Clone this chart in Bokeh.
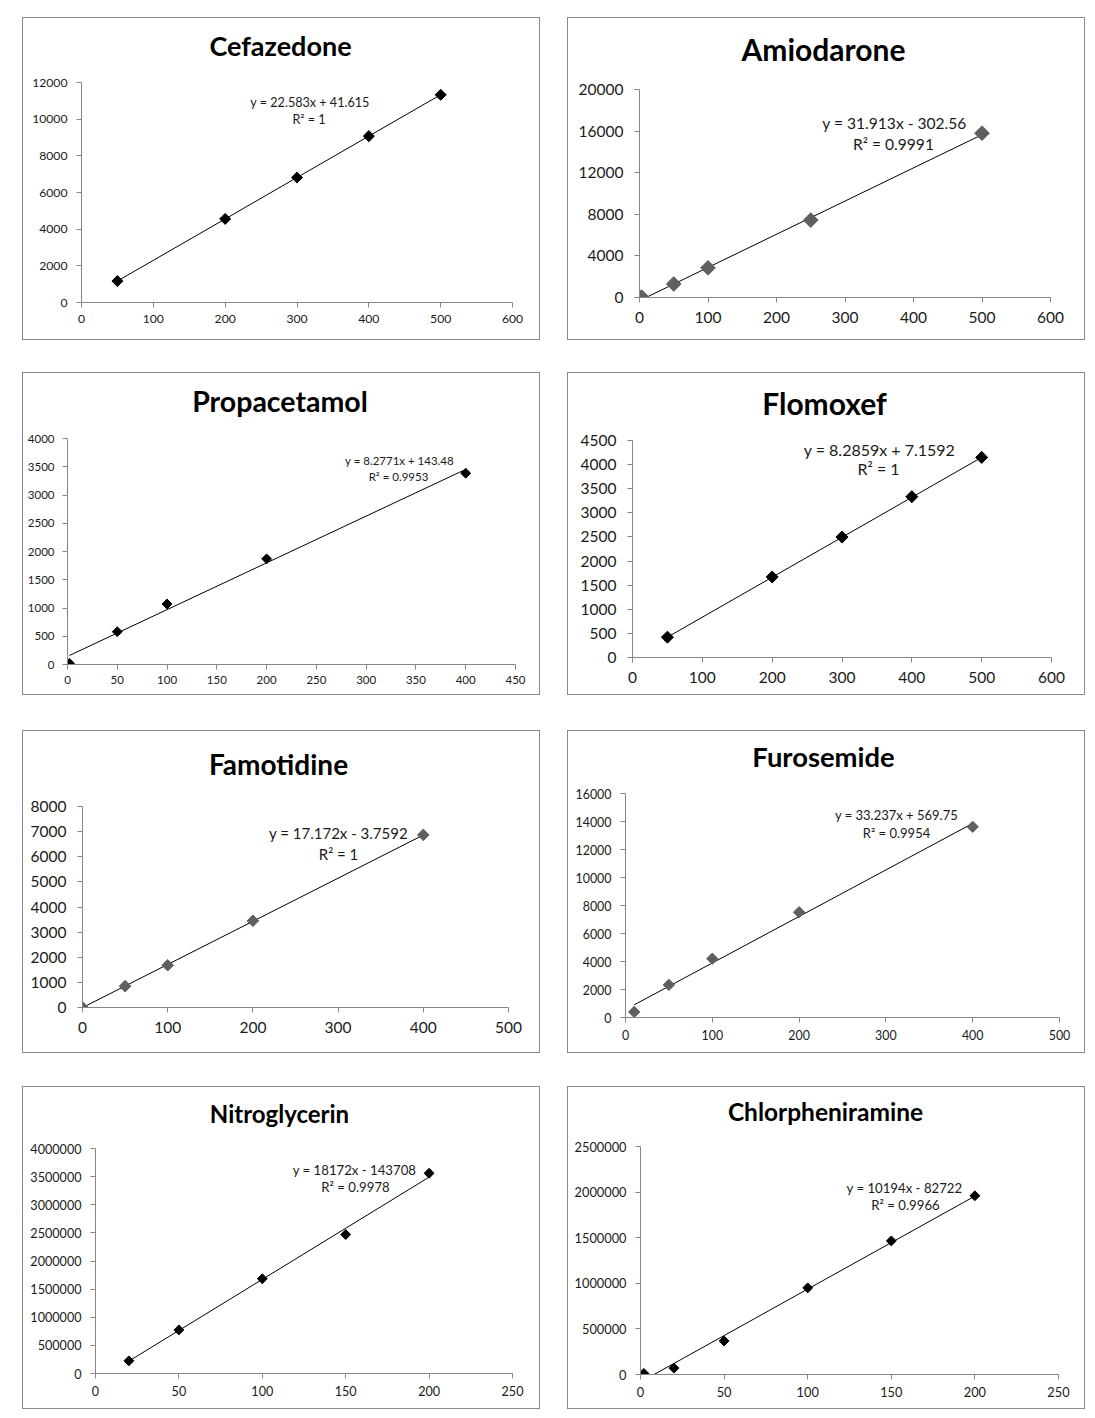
import math
from bokeh.plotting import figure
from bokeh.models import Range1d, FixedTicker, NumeralTickFormatter, Label
from bokeh.embed import file_html
from bokeh.resources import INLINE

# ---------------- data ----------------
cef_x = [50, 200, 300, 400, 500]
cef_y = [1170, 4560, 6815, 9075, 11330]
cef_fit = [22.583, 41.615]
cef_xticks = [0, 100, 200, 300, 400, 500, 600]
cef_yticks = [0, 2000, 4000, 6000, 8000, 10000, 12000]

ami_x = [3, 50, 100, 250, 500]
ami_y = [40, 1300, 2850, 7440, 15800]
ami_fit = [31.913, -302.56]
ami_xticks = [0, 100, 200, 300, 400, 500, 600]
ami_yticks = [0, 4000, 8000, 12000, 16000, 20000]

pro_x = [2, 50, 100, 200, 400]
pro_y = [20, 580, 1070, 1870, 3385]
pro_fit = [8.2771, 143.48]
pro_xticks = [0, 50, 100, 150, 200, 250, 300, 350, 400, 450]
pro_yticks = [0, 500, 1000, 1500, 2000, 2500, 3000, 3500, 4000]

flo_x = [50, 200, 300, 400, 500]
flo_y = [422, 1670, 2497, 3335, 4150]
flo_fit = [8.2859, 7.1592]
flo_xticks = [0, 100, 200, 300, 400, 500, 600]
flo_yticks = [0, 500, 1000, 1500, 2000, 2500, 3000, 3500, 4000, 4500]

fam_x = [0, 50, 100, 200, 400]
fam_y = [5, 850, 1680, 3450, 6870]
fam_fit = [17.172, -3.7592]
fam_xticks = [0, 100, 200, 300, 400, 500]
fam_yticks = [0, 1000, 2000, 3000, 4000, 5000, 6000, 7000, 8000]

fur_x = [10, 50, 100, 200, 400]
fur_y = [400, 2330, 4200, 7520, 13620]
fur_fit = [33.237, 569.75]
fur_xticks = [0, 100, 200, 300, 400, 500]
fur_yticks = [0, 2000, 4000, 6000, 8000, 10000, 12000, 14000, 16000]

nit_x = [20, 50, 100, 150, 200]
nit_y = [225000, 775000, 1685000, 2470000, 3560000]
nit_fit = [18172, -143708]
nit_xticks = [0, 50, 100, 150, 200, 250]
nit_yticks = [0, 500000, 1000000, 1500000, 2000000, 2500000, 3000000, 3500000, 4000000]

chl_x = [2, 20, 50, 100, 150, 200]
chl_y = [12000, 70000, 368000, 950000, 1465000, 1960000]
chl_fit = [10194, -82722]
chl_xticks = [0, 50, 100, 150, 200, 250]
chl_yticks = [0, 500000, 1000000, 1500000, 2000000, 2500000]

titles = ["Cefazedone", "Amiodarone", "Propacetamol", "Flomoxef",
          "Famotidine", "Furosemide", "Nitroglycerin", "Chlorpheniramine"]
equations = ["y = 22.583x + 41.615", "y = 31.913x - 302.56", "y = 8.2771x + 143.48",
             "y = 8.2859x + 7.1592", "y = 17.172x - 3.7592", "y = 33.237x + 569.75",
             "y = 18172x - 143708", "y = 10194x - 82722"]
r2_texts = ["R\u00b2 = 1", "R\u00b2 = 0.9991", "R\u00b2 = 0.9953", "R\u00b2 = 1",
            "R\u00b2 = 1", "R\u00b2 = 0.9954", "R\u00b2 = 0.9978", "R\u00b2 = 0.9966"]

# ---------------- layout / style (page px) ----------------
FONT = "Lato"
W, H = 518, 323          # outer box incl. 1px border (border-box)
CW, CH = 516, 321        # canvas inside the border
specs = [
    dict(xs=cef_x, ys=cef_y, fit=cef_fit, xt=cef_xticks, yt=cef_yticks,
         box=(22, 17), frame=(80.5, 510, 82, 300), tick_fs=12.2, title_fs=27, eq_fs=12.6,
         title_pos=(279.5, 44.5), eq_pos=(309, 99.5), r2_pos=(308, 117), msize=7.8, mcolor="#000000"),
    dict(xs=ami_x, ys=ami_y, fit=ami_fit, xt=ami_xticks, yt=ami_yticks,
         box=(567, 17), frame=(639, 1048, 89, 295), tick_fs=15.5, title_fs=30, eq_fs=15.6,
         title_pos=(823, 48), eq_pos=(894, 120), r2_pos=(893, 141), msize=10.4, mcolor="#5f5f5f"),
    dict(xs=pro_x, ys=pro_y, fit=pro_fit, xt=pro_xticks, yt=pro_yticks,
         box=(22, 372), frame=(67, 513, 438, 662), tick_fs=11.5, title_fs=28.5, eq_fs=11.5,
         title_pos=(279.5, 400.5), eq_pos=(399, 458), r2_pos=(398, 474), msize=7, mcolor="#000000"),
    dict(xs=flo_x, ys=flo_y, fit=flo_fit, xt=flo_xticks, yt=flo_yticks,
         box=(567, 372), frame=(632, 1049, 440, 655), tick_fs=15.5, title_fs=30, eq_fs=16,
         title_pos=(824, 402), eq_pos=(879, 447), r2_pos=(878, 466), msize=8.5, mcolor="#000000"),
    dict(xs=fam_x, ys=fam_y, fit=fam_fit, xt=fam_xticks, yt=fam_yticks,
         box=(22, 730), frame=(82, 506, 806, 1005), tick_fs=15.5, title_fs=28, eq_fs=15,
         title_pos=(278, 763), eq_pos=(338, 830), r2_pos=(338, 851), msize=8.2, mcolor="#5f5f5f"),
    dict(xs=fur_x, ys=fur_y, fit=fur_fit, xt=fur_xticks, yt=fur_yticks,
         box=(567, 730), frame=(625, 1057, 793, 1015), tick_fs=12.4, title_fs=27.4, eq_fs=13,
         title_pos=(823, 756), eq_pos=(896, 812), r2_pos=(896, 830), msize=8, mcolor="#5f5f5f"),
    dict(xs=nit_x, ys=nit_y, fit=nit_fit, xt=nit_xticks, yt=nit_yticks,
         box=(22, 1086), frame=(95, 510, 1148, 1371), tick_fs=12.6, title_fs=24, eq_fs=13.2,
         title_pos=(279, 1113), eq_pos=(354, 1167), r2_pos=(355, 1184), msize=7, mcolor="#000000"),
    dict(xs=chl_x, ys=chl_y, fit=chl_fit, xt=chl_xticks, yt=chl_yticks,
         box=(567, 1086), frame=(640, 1056, 1146, 1372), tick_fs=12.8, title_fs=24.5, eq_fs=13.2,
         title_pos=(825, 1111), eq_pos=(904, 1185), r2_pos=(905, 1202), msize=7, mcolor="#000000"),
]


def make_panel(i, s):
    bx, by = s["box"]
    fx0, fx1, fy0, fy1 = s["frame"]
    p = figure(width=W, height=H,
               x_range=Range1d(0, s["xt"][-1]), y_range=Range1d(0, s["yt"][-1]),
               output_backend="svg", toolbar_location=None,
               min_border_left=round(fx0 - bx - 1), min_border_right=round(bx + 1 + CW - fx1),
               min_border_top=round(fy0 - by - 1), min_border_bottom=round(by + 1 + CH - fy1))
    # each chart placed on its own at its box position (no frame alignment between charts)
    p.styles = {"position": "absolute", "left": f"{bx}px", "top": f"{by}px",
                "border": "1px solid #8a8a8a", "box-sizing": "border-box"}
    p.outline_line_color = None
    p.xgrid.visible = False
    p.ygrid.visible = False
    p.background_fill_color = "white"
    p.border_fill_color = "white"

    for ax, ticks in ((p.xaxis, s["xt"]), (p.yaxis, s["yt"])):
        ax.ticker = FixedTicker(ticks=ticks)
        ax.formatter = NumeralTickFormatter(format="0")
        ax.axis_line_color = "#868686"
        ax.major_tick_line_color = "#868686"
        ax.major_tick_out = 5
        ax.major_tick_in = 0
        ax.minor_tick_line_color = None
        ax.major_label_text_font = FONT
        ax.major_label_text_font_size = f"{s['tick_fs']}px"
        ax.major_label_text_color = "#1a1a1a"
    p.xaxis.major_label_standoff = round(0.72 * s["tick_fs"]) - 2
    p.yaxis.major_label_standoff = round(0.72 * s["tick_fs"])

    slope, icpt = s["fit"]
    lx = [min(s["xs"]), max(s["xs"])]
    ly = [slope * v + icpt for v in lx]
    p.line(lx, ly, line_color="#000000", line_width=1)
    p.scatter(s["xs"], s["ys"], marker="square", size=s["msize"], angle=math.pi / 4,
              fill_color=s["mcolor"], line_color=s["mcolor"])

    def lab(pos, text, fs, bold=False, above=False):
        yv = (fy0 - pos[1]) if above else (fy1 - pos[1])
        return Label(x=pos[0] - fx0, y=yv, x_units="screen", y_units="screen",
                     text=text, text_font=FONT, text_font_size=f"{fs}px",
                     text_font_style="bold" if bold else "normal",
                     text_color="#000000" if bold else "#1a1a1a",
                     text_align="center", text_baseline="middle")

    p.add_layout(lab(s["title_pos"], titles[i], s["title_fs"], True, True), "above")
    p.add_layout(lab(s["eq_pos"], equations[i], s["eq_fs"]))
    p.add_layout(lab(s["r2_pos"], r2_texts[i], s["eq_fs"]))
    return p


panels = [make_panel(i, s) for i, s in enumerate(specs)]

open("out.html", "w").write(file_html(panels, INLINE))
